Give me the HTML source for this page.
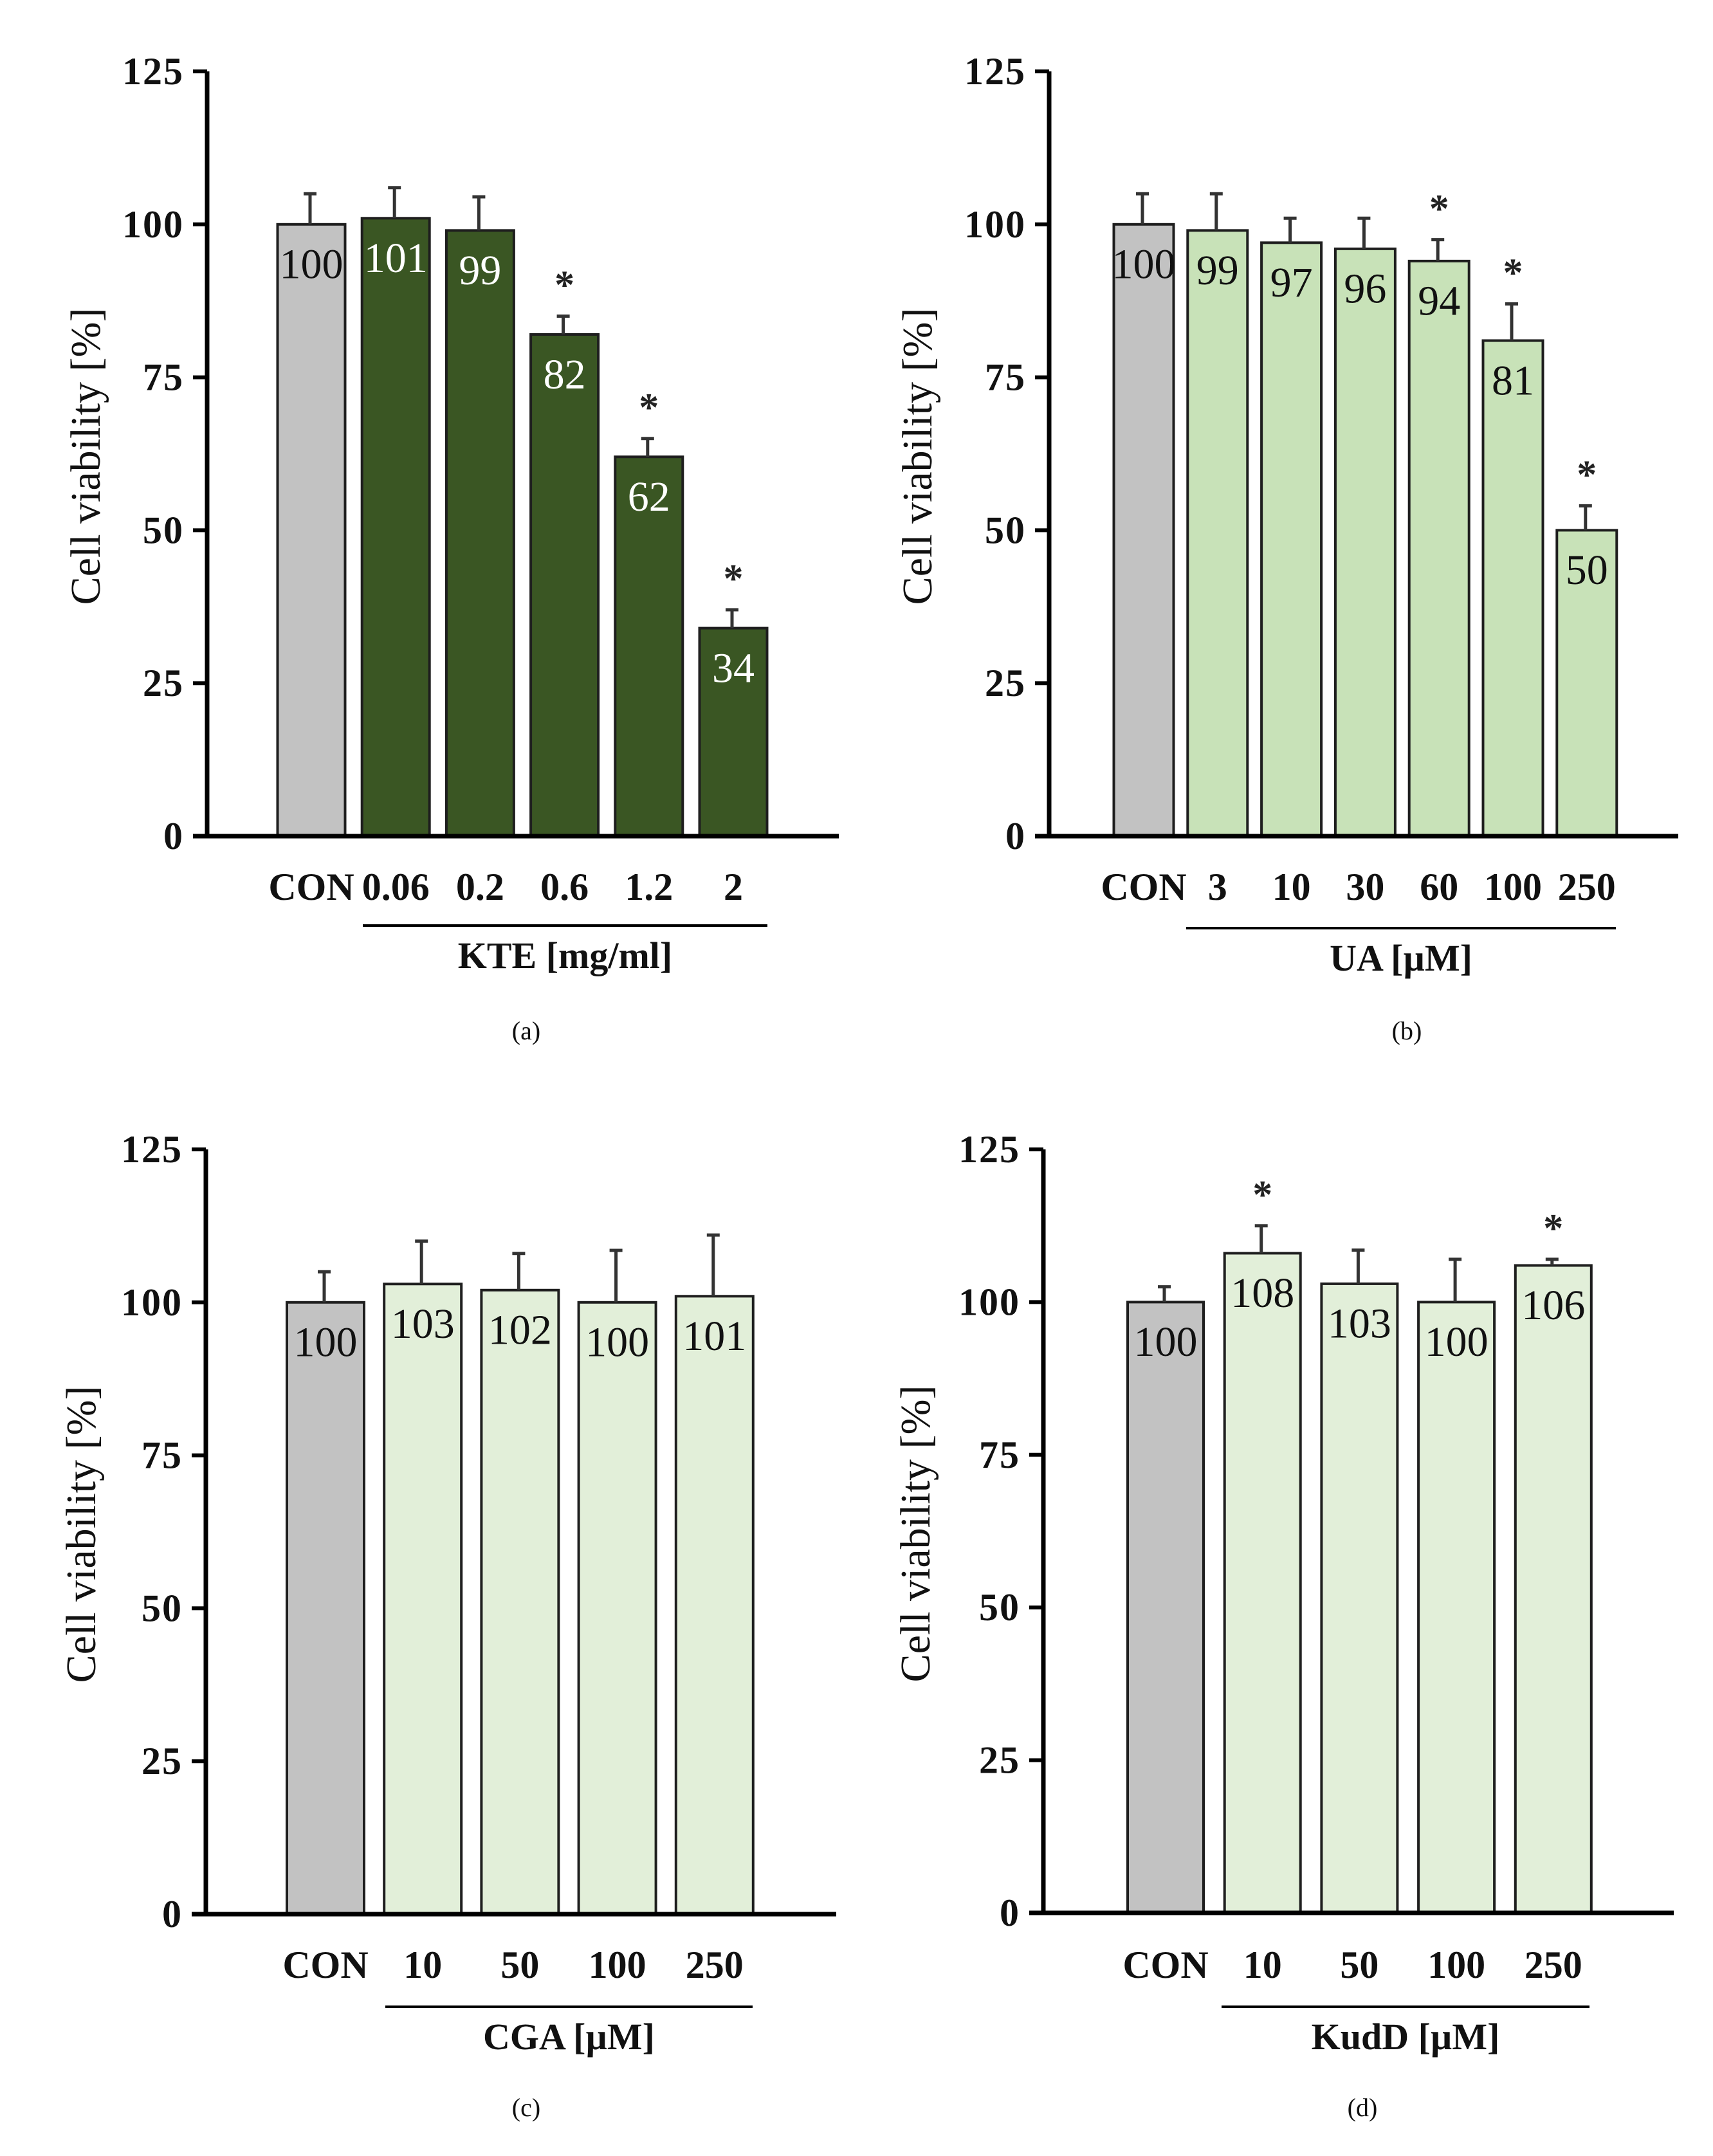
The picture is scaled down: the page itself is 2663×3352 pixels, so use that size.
<!DOCTYPE html>
<html><head><meta charset="utf-8"><style>
html,body{margin:0;padding:0;background:#fff;}
svg{display:block;}
text{font-family:"Liberation Serif",serif;}
</style></head>
<body>
<svg id="fig" width="2663" height="3352" viewBox="0 0 2663 3352" xmlns="http://www.w3.org/2000/svg"></svg>
<script>
// Panel (a) data
const catsA = ["CON","0.06","0.2","0.6","1.2","2"];
const valsA = [100,101,99,82,62,34];
const errsA = [105,106,104.5,85,65,37];
const sigA  = [false,false,false,true,true,true];
// Panel (b) data
const catsB = ["CON","3","10","30","60","100","250"];
const valsB = [100,99,97,96,94,81,50];
const errsB = [105,105,101,101,97.5,87,54];
const sigB  = [false,false,false,false,true,true,true];
// Panel (c) data
const catsC = ["CON","10","50","100","250"];
const valsC = [100,103,102,100,101];
const errsC = [105,110,108,108.5,111];
const sigC  = [false,false,false,false,false];
// Panel (d) data
const catsD = ["CON","10","50","100","250"];
const valsD = [100,108,103,100,106];
const errsD = [102.5,112.5,108.5,107,107];
const sigD  = [false,true,false,false,true];
const yTicks = [0,25,50,75,100,125];

const NS = "http://www.w3.org/2000/svg";
const svg = document.getElementById("fig");
function mk(tag, attrs, parent, txt){
  const e = document.createElementNS(NS, tag);
  for (const k in attrs) e.setAttribute(k, attrs[k]);
  if (txt !== undefined) e.textContent = txt;
  (parent || svg).appendChild(e);
  return e;
}

function panel(p){
  const g = mk("g", {});
  
  
  const y = v => p.yBot - (v / 125) * (p.yBot - p.yTop);
  const x = i => p.x0 + i * p.step;
  p.vals.forEach((v, i) => {
    const r = mk("rect", {x: x(i) - p.w/2, y: y(v), width: p.w, height: p.yBot - y(v),
      fill: i === 0 ? "#c2c2c2" : p.fill, stroke: "#1e1e1e", "stroke-width": 4}, g);
    
    
    const ex = x(i) - 2;
    const el = mk("path", {d: `M${ex},${y(v)} V${y(p.errs[i])} M${ex-10},${y(p.errs[i])} H${ex+10}`,
      stroke: "#333", "stroke-width": 5, fill: "none"}, g);
    
    
    const t = mk("text", {x: x(i), y: y(v - 6.5) + 22, "text-anchor": "middle", "font-size": 66,
      fill: (i > 0 && p.whiteText) ? "#fff" : "#111"}, g, String(v));
    
    
    if (p.sig[i]) {
      const s = mk("text", {x: x(i), y: y(p.errs[i] + 6.5) + 34, "text-anchor": "middle", "font-size": 62,
        "font-weight": "bold", fill: "#222"}, g, "*");
      
      
    }
    const c = mk("text", {x: x(i), y: p.catY, "text-anchor": "middle", "font-size": 60,
      "font-weight": "bold", fill: "#111"}, g, p.cats[i]);
    
    
  });
  const ax = mk("path", {d: `M${p.ax},${p.yTop} V${p.yBot} M${p.ax - 22},${p.yBot} H${p.xEnd}`,
    stroke: "#000", "stroke-width": 7, fill: "none"}, g);
  
  
  yTicks.forEach(v => {
    const tk = mk("line", {x1: p.ax - 22, x2: p.ax, y1: y(v), y2: y(v), stroke: "#000", "stroke-width": 6}, g);
    
    
    const tl = mk("text", {x: p.ax - 36, y: y(v) + 20, "text-anchor": "end", "font-size": 60,
      "font-weight": "bold", "letter-spacing": 2, fill: "#111"}, g, String(v));
    
    
  });
  const yt = mk("text", {x: 0, y: 0, "text-anchor": "middle", "font-size": 66, fill: "#111",
    transform: `translate(${p.titleX},${(p.yTop + p.yBot)/2 + 4}) rotate(-90)`}, g, "Cell viability [%]");
  
  
  const ul = mk("line", {x1: p.ulX1, x2: p.ulX2, y1: p.ulY, y2: p.ulY, stroke: "#000", "stroke-width": 4}, g);
  
  
  const xt = mk("text", {x: (p.ulX1 + p.ulX2)/2, y: p.ulY + 66, "text-anchor": "middle", "font-size": 58,
    "font-weight": "bold", fill: "#111"}, g, p.xTitle);
  
  
  const sl = mk("text", {x: p.subX, y: p.subY, "text-anchor": "middle", "font-size": 40, fill: "#111"}, g, p.sub);
  
  
}

panel({id:"a", cats:catsA, vals:valsA, errs:errsA, sig:sigA, fill:"#3a5623", whiteText:true,
  ax:322, yTop:111, yBot:1300, xEnd:1304, x0:484, step:131.2, w:105, catY:1399,
  titleX:155, ulX1:564, ulX2:1193, ulY:1439, xTitle:"KTE [mg/ml]", sub:"(a)", subX:818, subY:1616});
panel({id:"b", cats:catsB, vals:valsB, errs:errsB, sig:sigB, fill:"#c8e2b8", whiteText:false,
  ax:1631, yTop:111, yBot:1300, xEnd:2609, x0:1778, step:114.8, w:93, catY:1399,
  titleX:1448, ulX1:1844, ulX2:2512, ulY:1443, xTitle:"UA [\u00b5M]", sub:"(b)", subX:2187, subY:1616});
panel({id:"c", cats:catsC, vals:valsC, errs:errsC, sig:sigC, fill:"#e2efd9", whiteText:false,
  ax:320, yTop:1787, yBot:2976, xEnd:1300, x0:506, step:151.2, w:120, catY:3075,
  titleX:148, ulX1:599, ulX2:1170, ulY:3120, xTitle:"CGA [\u00b5M]", sub:"(c)", subX:818, subY:3290});
panel({id:"d", cats:catsD, vals:valsD, errs:errsD, sig:sigD, fill:"#e2efd9", whiteText:false,
  ax:1622, yTop:1787, yBot:2974, xEnd:2602, x0:1812, step:150.7, w:118, catY:3075,
  titleX:1445, ulX1:1899, ulX2:2471, ulY:3120, xTitle:"KudD [\u00b5M]", sub:"(d)", subX:2118, subY:3290});
</script>
</body></html>
